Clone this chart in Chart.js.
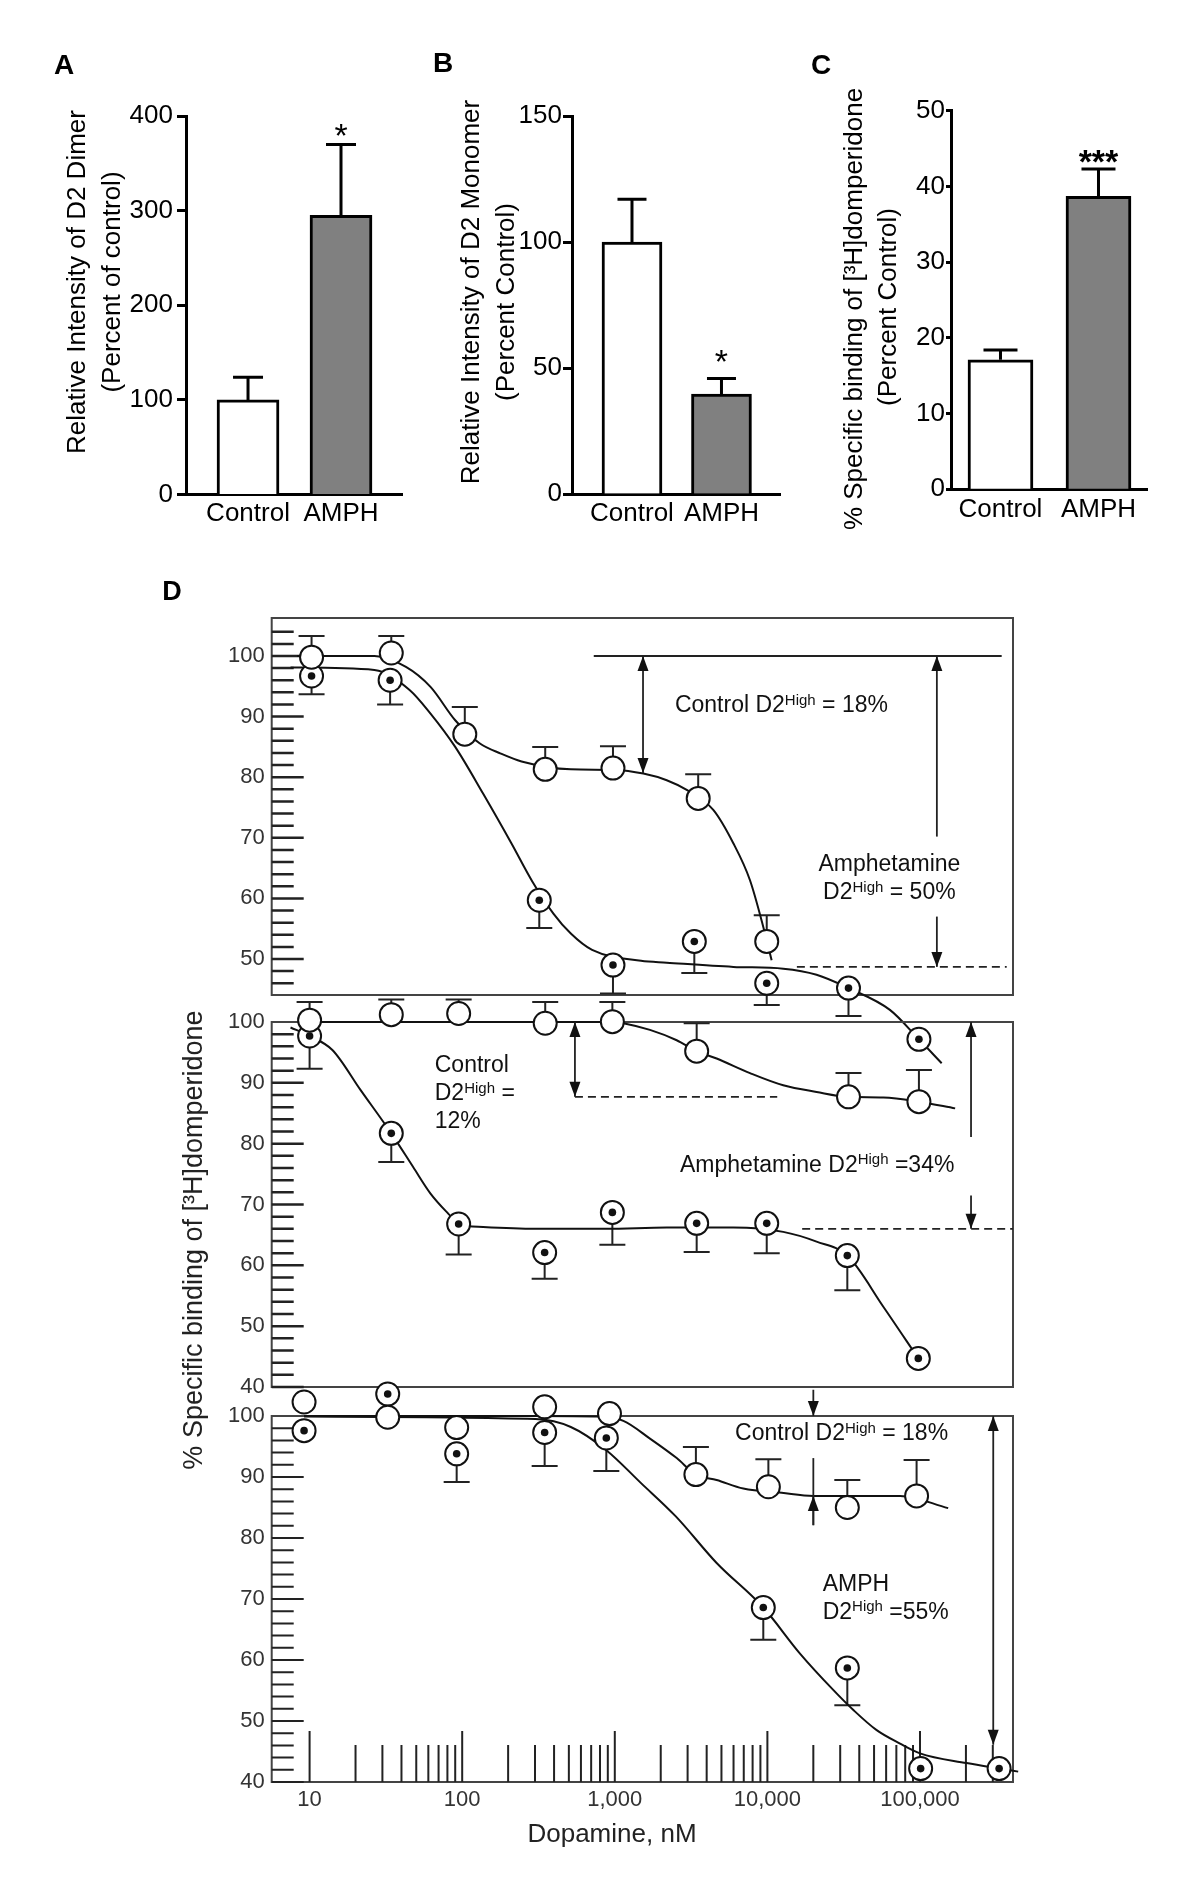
<!DOCTYPE html>
<html>
<head>
<meta charset="utf-8">
<script src="https://cdn.jsdelivr.net/npm/chart.js@4.4.0/dist/chart.umd.min.js"></script>
<style>
html, body { margin: 0; padding: 0; background: #fff; }
#wrap { position: relative; width: 1200px; height: 1890px; background: #fff; }
#wrap canvas { position: absolute; left: 0; top: 0; }
</style>
</head>
<body>
<div id="wrap">
  <canvas id="cA" width="1200" height="1890"></canvas>
  <canvas id="cB" width="1200" height="1890"></canvas>
  <canvas id="cC" width="1200" height="1890"></canvas>
  <canvas id="cD1" width="1200" height="1890"></canvas>
  <canvas id="cD2" width="1200" height="1890"></canvas>
  <canvas id="cD3" width="1200" height="1890"></canvas>
</div>
<script>
Chart.defaults.font.family = '"Liberation Sans", Arial, Helvetica, sans-serif';
Chart.defaults.color = '#000';
var FONT = '"Liberation Sans", Arial, Helvetica, sans-serif';

// points in panel D spill over the frames, so let them draw outside the chart area
var PE = (Chart.elements && Chart.elements.PointElement) || Chart.PointElement;
var peDraw = PE.prototype.draw;
PE.prototype.draw = function (ctx) { peDraw.call(this, ctx); };

// ---- panels A, B, C (bars)
var groups = ['Control', 'AMPH'];
var dimerMean = [100, 295];
var dimerErr = [124, 370];
var dimerStars = ['', '*'];
var dimerTicks = [0, 100, 200, 300, 400];

var monoMean = [100, 39.7];
var monoErr = [117, 45.8];
var monoStars = ['', '*'];
var monoTicks = [0, 50, 100, 150];

var bindMean = [17.1, 38.7];
var bindErr = [18.4, 42.3];
var bindStars = ['', '***'];
var bindTicks = [0, 10, 20, 30, 40, 50];

// ---- panel D (competition curves), dose in nM, binding in %
var doseTicks = [10, 100, 1000, 10000, 100000];
var doseTickLabels = ['10', '100', '1,000', '10,000', '100,000'];
var doseMin = 5.645, doseMax = 406900;

// top row
var topCtlDose = [10.3, 34.3, 104, 350, 973, 3520, 9900];
var topCtlBind = [99.8, 100.5, 87.1, 81.3, 81.5, 76.5, 52.9];
var topCtlErr = [103.3, 103.3, 91.6, 85.0, 85.1, 80.5, 57.2];
var topAmDose = [10.3, 33.7, 320, 973, 3320, 9900, 34000, 98400];
var topAmBind = [96.7, 96.0, 59.7, 49.0, 52.9, 46.0, 45.2, 36.75];
var topAmErr = [93.7, 92.0, 55.1, 44.3, 47.7, 42.4, 40.6, null];
var topCtlFitDose = [8.3, 26.6, 42.8, 62, 90, 130, 179, 245, 515, 1000, 1538, 2190, 2960, 4420, 5980, 7690, 9400, 10660];
var topCtlFit = [100, 100, 98.2, 94.9, 89.4, 85.6, 83.9, 82.6, 81.3, 81.2, 80.6, 79.5, 77.9, 74.6, 69.1, 63.0, 55.3, 49.8];
var topAmFitDose = [7.5, 26.6, 45.2, 62, 90, 137, 210, 288, 396, 515, 710, 1486, 2190, 5980, 12700, 21000, 34000, 63500, 98400, 138700];
var topAmFit = [98.1, 97.7, 94.4, 90.5, 85.0, 77.3, 69.1, 62.8, 57.5, 54.2, 51.5, 49.7, 49.4, 48.7, 48.4, 47.4, 45.2, 41.6, 36.75, 32.8];

// middle row
var midCtlDose = [10, 34.3, 94.8, 350, 964, 3440, 34000, 98400];
var midCtlBind = [100.3, 101.2, 101.4, 99.8, 100.05, 95.2, 87.7, 86.9];
var midCtlErr = [103.3, 103.7, 103.7, 103.3, 103.3, 99.8, 91.6, 92.1];
var midAmDose = [10, 34.3, 94.8, 347, 964, 3440, 9900, 33400, 97500];
var midAmBind = [97.7, 81.7, 66.8, 62.1, 68.7, 66.9, 66.9, 61.6, 44.7];
var midAmErr = [92.3, 77.0, 61.8, 57.8, 63.4, 62.2, 62.0, 55.9, null];
var midCtlFitDose = [10, 1000, 1138, 1700, 2545, 3440, 4650, 7690, 12700, 21000, 34000, 57500, 98400, 170000];
var midCtlFit = [100, 100, 99.8, 98.7, 97.0, 95.2, 94.0, 91.6, 89.6, 88.5, 87.7, 87.6, 86.9, 85.8];
var midAmFitDose = [7.5, 10, 14.1, 21.6, 34.3, 47.6, 62, 81, 95, 137, 303, 880, 2190, 5980, 12700, 21000, 33400, 57500, 97500];
var midAmFit = [99.1, 97.7, 95.4, 88.8, 81.7, 76.2, 71.8, 68.5, 66.8, 66.3, 66.0, 66.0, 66.2, 66.2, 65.5, 63.9, 61.6, 53.2, 44.7];

// bottom row
var botCtlDose = [9.2, 32.5, 92, 347, 923, 3400, 10150, 33400, 95000];
var botCtlBind = [102.3, 99.8, 98.1, 101.5, 100.4, 90.4, 88.4, 85.0, 86.9];
var botCtlErr = [null, null, null, null, null, 94.9, 92.9, 89.5, 92.8];
var botAmDose = [9.2, 32.5, 92, 347, 880, 9400, 33400, 101000, 330000];
var botAmBind = [97.6, 103.6, 93.8, 97.3, 96.4, 68.6, 58.7, 42.2, 42.2];
var botAmErr = [null, null, 89.2, 91.8, 91.0, 63.3, 52.6, null, null];
var botCtlFitDose = [9.2, 300, 800, 1138, 1700, 2545, 3400, 4650, 6950, 12400, 20000, 74000, 153000];
var botCtlFit = [100, 100, 99.9, 99.2, 96.3, 93.1, 90.4, 89.5, 88.1, 87.4, 86.9, 86.9, 84.9];
var botAmFitDose = [9.2, 303, 515, 880, 1486, 2520, 4650, 9400, 16300, 27000, 36600, 52000, 74000, 100000, 202000, 330000, 440000];
var botAmFit = [99.9, 99.5, 98.2, 94.4, 89.0, 83.5, 75.9, 68.6, 61.1, 55.1, 51.8, 48.5, 46.3, 44.7, 43.1, 42.2, 41.7];

// all log ticks 10..300000
var doseMinor = [];
doseTicks.forEach(function (d) {
  for (var m = 1; m <= 9; m++) if (d * m <= 300000) doseMinor.push(d * m);
});

function pts(xs, ys) {
  return xs.map(function (x, i) { return {x: x, y: ys[i]}; });
}
function sup(a, b, c) { return [{t: a}, {t: b, sup: true}, {t: c}]; }
function plain(a) { return [{t: a}]; }

function drawRich(ctx, x, y, parts, align) {
  var big = '23px ' + FONT, small = '15px ' + FONT, w = 0;
  parts.forEach(function (p) {
    ctx.font = p.sup ? small : big;
    p.w = ctx.measureText(p.t).width;
    w += p.w;
  });
  var cx = align === 'center' ? x - w / 2 : x;
  var base = y + 8.2;
  ctx.textAlign = 'left';
  ctx.textBaseline = 'alphabetic';
  parts.forEach(function (p) {
    ctx.font = p.sup ? small : big;
    ctx.fillText(p.t, cx, p.sup ? base - 7.5 : base);
    cx += p.w;
  });
}

function head(ctx, x, y, dir) {
  ctx.beginPath();
  ctx.moveTo(x, y);
  ctx.lineTo(x - 5.5, y - dir * 15);
  ctx.lineTo(x + 5.5, y - dir * 15);
  ctx.closePath();
  ctx.fill();
}

// error bars + stars on the bar panels
var barMarks = {
  id: 'barMarks',
  afterDatasetsDraw: function (chart, args, opts) {
    var ctx = chart.ctx, ys = chart.scales.y;
    chart.data.datasets.forEach(function (ds, di) {
      chart.getDatasetMeta(di).data.forEach(function (bar, i) {
        var top = ys.getPixelForValue(ds.errEnd[i]);
        ctx.save();
        ctx.strokeStyle = '#000';
        ctx.lineWidth = 3;
        ctx.beginPath();
        ctx.moveTo(bar.x, bar.y);
        ctx.lineTo(bar.x, top);
        ctx.moveTo(bar.x - opts.cap / 2, top);
        ctx.lineTo(bar.x + opts.cap / 2, top);
        ctx.stroke();
        if (ds.stars[i]) {
          ctx.fillStyle = '#000';
          ctx.font = opts.starFont;
          ctx.textAlign = 'center';
          ctx.textBaseline = 'middle';
          ctx.fillText(ds.stars[i], bar.x, top - opts.starGap);
        }
        ctx.restore();
      });
    });
  }
};

// frame + inward tick marks of panel D
var innerTicks = {
  id: 'innerTicks',
  beforeDatasetsDraw: function (chart, args, opts) {
    var ctx = chart.ctx, a = chart.chartArea, y = chart.scales.y, x = chart.scales.x;
    ctx.save();
    ctx.strokeStyle = '#444';
    ctx.lineWidth = 2;
    ctx.strokeRect(a.left, a.top, a.right - a.left, a.bottom - a.top);
    ctx.strokeStyle = '#222';
    ctx.lineWidth = 2.5;
    ctx.beginPath();
    y.ticks.forEach(function (t) {
      var py = y.getPixelForValue(t.value);
      if (py - a.top < 4) return;
      var len = t.value % 10 === 0 ? 32 : 22;
      ctx.moveTo(a.left, py);
      ctx.lineTo(a.left + len, py);
    });
    if (opts.logTicks) {
      ctx.lineWidth = 2;
      x.ticks.forEach(function (t) {
        var px = x.getPixelForValue(t.value);
        var major = doseTicks.indexOf(t.value) >= 0;
        ctx.moveTo(px, a.bottom);
        ctx.lineTo(px, a.bottom - (major ? 51 : 37));
      });
    }
    ctx.stroke();
    ctx.restore();
  }
};

var errBars = {
  id: 'errBars',
  beforeDatasetsDraw: function (chart) {
    var ctx = chart.ctx, ys = chart.scales.y;
    ctx.save();
    ctx.strokeStyle = '#222';
    ctx.lineWidth = 2;
    chart.data.datasets.forEach(function (ds, di) {
      if (!ds.errEnd) return;
      chart.getDatasetMeta(di).data.forEach(function (pt, i) {
        var e = ds.errEnd[i];
        if (e == null) return;
        var py = ys.getPixelForValue(e);
        ctx.beginPath();
        ctx.moveTo(pt.x, pt.y);
        ctx.lineTo(pt.x, py);
        ctx.moveTo(pt.x - 13, py);
        ctx.lineTo(pt.x + 13, py);
        ctx.stroke();
      });
    });
    ctx.restore();
  }
};

var notes = {
  id: 'notes',
  afterDatasetsDraw: function (chart, args, opts) {
    var ctx = chart.ctx, xs = chart.scales.x, ys = chart.scales.y;
    function X(v) { return xs.getPixelForValue(v); }
    function Y(v) { return ys.getPixelForValue(v); }
    ctx.save();
    ctx.strokeStyle = '#222';
    ctx.fillStyle = '#111';
    ctx.lineWidth = 1.8;
    (opts.items || []).forEach(function (it) {
      if (it.k === 'h') {
        ctx.setLineDash(it.dash ? [8, 5] : []);
        ctx.beginPath();
        ctx.moveTo(X(it.x1), Y(it.y));
        ctx.lineTo(X(it.x2), Y(it.y));
        ctx.stroke();
        ctx.setLineDash([]);
      } else if (it.k === 'v') {
        var px = X(it.x), p1 = Y(it.y1), p2 = Y(it.y2);
        ctx.beginPath();
        ctx.moveTo(px, p1);
        ctx.lineTo(px, p2);
        ctx.stroke();
        if (it.h1) head(ctx, px, p1, p1 < p2 ? -1 : 1);
        if (it.h2) head(ctx, px, p2, p2 < p1 ? -1 : 1);
      } else if (it.k === 't') {
        drawRich(ctx, X(it.x), Y(it.y), it.parts, it.align);
      }
    });
    ctx.restore();
  }
};

var pageText = {
  id: 'pageText',
  afterDraw: function (chart, args, opts) {
    var ctx = chart.ctx;
    (opts.items || []).forEach(function (t) {
      ctx.save();
      ctx.translate(t.x, t.y);
      if (t.rot) ctx.rotate(t.rot);
      ctx.font = t.font;
      ctx.fillStyle = t.color || '#000';
      ctx.textAlign = 'center';
      ctx.textBaseline = 'middle';
      ctx.fillText(t.text, 0, 0);
      ctx.restore();
    });
  }
};

function barChart(id, o) {
  return new Chart(document.getElementById(id), {
    type: 'bar',
    data: {
      datasets: [{
        data: o.mean.map(function (v, i) { return {x: i + 1, y: v}; }),
        backgroundColor: ['#ffffff', '#808080'],
        borderColor: '#000',
        borderWidth: 3,
        borderSkipped: 'bottom',
        barThickness: o.barW,
        errEnd: o.err,
        stars: o.stars
      }]
    },
    options: {
      responsive: false, animation: false, events: [], devicePixelRatio: 1,
      layout: {padding: {left: 0, top: o.T, right: 1200 - o.R, bottom: 0}},
      plugins: {
        legend: {display: false}, tooltip: {enabled: false},
        barMarks: {cap: o.cap, starFont: o.starFont, starGap: o.starGap}
      },
      scales: {
        x: {
          type: 'linear', min: o.xmin, max: o.xmax, offset: false,
          afterFit: function (s) { s.height = 1890 - o.B; },
          afterBuildTicks: function (s) { s.ticks = groups.map(function (g, i) { return {value: i + 1}; }); },
          grid: {display: false, drawTicks: false},
          border: {display: true, color: '#000', width: 3},
          ticks: {
            callback: function (v) { return groups[v - 1]; },
            font: {size: 26}, color: '#000', padding: o.xp, maxRotation: 0, autoSkip: false
          }
        },
        y: {
          min: 0, max: o.ticks[o.ticks.length - 1],
          afterFit: function (s) { s.width = o.L; },
          afterBuildTicks: function (s) { s.ticks = o.ticks.map(function (v) { return {value: v}; }); },
          grid: {display: true, drawOnChartArea: false, drawTicks: true, tickLength: o.tl, tickWidth: 3, tickColor: '#000'},
          border: {display: true, color: '#000', width: 3},
          ticks: {font: {size: 26}, color: '#000', padding: o.tp}
        }
      }
    },
    plugins: [barMarks]
  });
}

barChart('cA', {mean: dimerMean, err: dimerErr, stars: dimerStars, ticks: dimerTicks,
  L: 186, T: 116, R: 402, B: 494.6, xmin: 0.333, xmax: 2.656, barW: 62, cap: 30,
  starFont: '34px ' + FONT, starGap: 7, tl: 9, tp: 4, xp: 4});
barChart('cB', {mean: monoMean, err: monoErr, stars: monoStars, ticks: monoTicks,
  L: 572, T: 116, R: 780, B: 494, xmin: 0.3296, xmax: 2.654, barW: 60, cap: 29,
  starFont: '34px ' + FONT, starGap: 15, tl: 9, tp: 1, xp: 4});
barChart('cC', {mean: bindMean, err: bindErr, stars: bindStars, ticks: bindTicks,
  L: 951, T: 110.7, R: 1147, B: 489.3, xmin: 0.495, xmax: 2.495, barW: 65, cap: 34,
  starFont: 'bold 34px ' + FONT, starGap: 5, tl: 5, tp: 1, xp: 5});

function dChart(id, o) {
  var xScale = {
    type: 'logarithmic', min: doseMin, max: doseMax, display: o.showX,
    afterBuildTicks: function (s) { s.ticks = doseMinor.map(function (v) { return {value: v}; }); },
    grid: {display: false, drawTicks: false},
    border: {display: false},
    ticks: {
      autoSkip: false, maxRotation: 0, padding: 5, font: {size: 22}, color: '#333',
      callback: function (v) { var k = doseTicks.indexOf(v); return k < 0 ? '' : doseTickLabels[k]; }
    }
  };
  if (o.showX) xScale.afterFit = function (s) { s.height = 1890 - o.B; };
  var ring = {
    showLine: false, pointRadius: 11.5, pointHoverRadius: 11.5, pointBackgroundColor: '#fff',
    pointBorderColor: '#111', pointBorderWidth: 2, clip: false, order: 2
  };
  var fit = {
    pointRadius: 0, borderColor: '#111', borderWidth: 2, cubicInterpolationMode: 'monotone',
    fill: false, clip: false, order: 3
  };
  return new Chart(document.getElementById(id), {
    type: 'line',
    data: {
      datasets: [
        Object.assign({data: pts(o.ctlFitX, o.ctlFitY)}, fit),
        Object.assign({data: pts(o.amFitX, o.amFitY)}, fit),
        Object.assign({data: pts(o.ctlX, o.ctlY), errEnd: o.ctlE}, ring),
        Object.assign({data: pts(o.amX, o.amY), errEnd: o.amE}, ring),
        {data: pts(o.amX, o.amY), showLine: false, pointRadius: 3.8, pointHoverRadius: 3.8,
          pointBackgroundColor: '#111', pointBorderWidth: 0, clip: false, order: 1}
      ]
    },
    options: {
      responsive: false, animation: false, events: [], devicePixelRatio: 1,
      layout: {padding: {left: 0, top: o.T, right: 1200 - 1013, bottom: o.showX ? 0 : 1890 - o.B}},
      plugins: {
        legend: {display: false}, tooltip: {enabled: false},
        innerTicks: {logTicks: o.showX},
        notes: {items: o.notes},
        pageText: {items: o.page || []}
      },
      scales: {
        x: xScale,
        y: {
          min: o.ymin, max: o.ymax,
          afterFit: function (s) { s.width = 271.7; },
          grid: {display: false, drawTicks: false},
          border: {display: false},
          ticks: {
            stepSize: 2, autoSkip: false, includeBounds: false, padding: 7,
            font: {size: 22}, color: '#333',
            callback: function (v) { return v % 10 === 0 ? String(v) : ''; }
          }
        }
      }
    },
    plugins: [innerTicks, errBars, notes, pageText]
  });
}

dChart('cD1', {
  T: 618, B: 995, ymin: 44.06, ymax: 106.27, showX: false,
  ctlX: topCtlDose, ctlY: topCtlBind, ctlE: topCtlErr,
  amX: topAmDose, amY: topAmBind, amE: topAmErr,
  ctlFitX: topCtlFitDose, ctlFitY: topCtlFit, amFitX: topAmFitDose, amFitY: topAmFit,
  notes: [
    {k: 'h', y: 100, x1: 728, x2: 343000},
    {k: 'v', x: 1531, y1: 100, y2: 80.7, h1: true, h2: true},
    {k: 't', x: 2477, y: 92.05, parts: sup('Control D2', 'High', ' = 18%'), align: 'left'},
    {k: 'v', x: 129000, y1: 100, y2: 70.2, h1: true},
    {k: 'v', x: 129000, y1: 57.0, y2: 48.7, h2: true},
    {k: 't', x: 63000, y: 65.8, parts: plain('Amphetamine'), align: 'center'},
    {k: 't', x: 63000, y: 61.2, parts: sup('D2', 'High', ' = 50%'), align: 'center'},
    {k: 'h', y: 48.7, x1: 15600, x2: 370000, dash: true}
  ]
});

dChart('cD2', {
  T: 1022, B: 1387, ymin: 40, ymax: 100, showX: false,
  ctlX: midCtlDose, ctlY: midCtlBind, ctlE: midCtlErr,
  amX: midAmDose, amY: midAmBind, amE: midAmErr,
  ctlFitX: midCtlFitDose, ctlFitY: midCtlFit, amFitX: midAmFitDose, amFitY: midAmFit,
  notes: [
    {k: 't', x: 66.1, y: 93.1, parts: plain('Control'), align: 'left'},
    {k: 't', x: 66.1, y: 88.5, parts: sup('D2', 'High', ' ='), align: 'left'},
    {k: 't', x: 66.1, y: 83.9, parts: plain('12%'), align: 'left'},
    {k: 'v', x: 548, y1: 100, y2: 87.7, h1: true, h2: true},
    {k: 'h', y: 87.7, x1: 548, x2: 11600, dash: true},
    {k: 't', x: 2675, y: 76.75, parts: sup('Amphetamine D2', 'High', ' =34%'), align: 'left'},
    {k: 'v', x: 216000, y1: 100, y2: 81.1, h1: true},
    {k: 'v', x: 216000, y1: 71.5, y2: 66.0, h2: true},
    {k: 'h', y: 66.0, x1: 16900, x2: doseMax, dash: true}
  ]
});

dChart('cD3', {
  T: 1416, B: 1782, ymin: 40, ymax: 100, showX: true,
  ctlX: botCtlDose, ctlY: botCtlBind, ctlE: botCtlErr,
  amX: botAmDose, amY: botAmBind, amE: botAmErr,
  ctlFitX: botCtlFitDose, ctlFitY: botCtlFit, amFitX: botAmFitDose, amFitY: botAmFit,
  notes: [
    {k: 'v', x: 20000, y1: 104.3, y2: 100, h2: true},
    {k: 'v', x: 20000, y1: 93.1, y2: 82.1},
    {k: 'v', x: 20000, y1: 82.1, y2: 86.9, h2: true},
    {k: 't', x: 6140, y: 97.4, parts: sup('Control D2', 'High', ' = 18%'), align: 'left'},
    {k: 'v', x: 302000, y1: 100, y2: 46.1, h1: true, h2: true},
    {k: 't', x: 23040, y: 72.65, parts: plain('AMPH'), align: 'left'},
    {k: 't', x: 23040, y: 68.1, parts: sup('D2', 'High', ' =55%'), align: 'left'}
  ],
  page: [
    {text: 'A', x: 64, y: 66, font: 'bold 28px ' + FONT},
    {text: 'B', x: 443, y: 64, font: 'bold 28px ' + FONT},
    {text: 'C', x: 821, y: 66, font: 'bold 28px ' + FONT},
    {text: 'D', x: 172, y: 593, font: 'bold 27px ' + FONT},
    {text: 'Relative Intensity of D2 Dimer', x: 78, y: 282, rot: -Math.PI / 2, font: '26px ' + FONT},
    {text: '(Percent of control)', x: 113, y: 282, rot: -Math.PI / 2, font: '26px ' + FONT},
    {text: 'Relative Intensity of D2 Monomer', x: 472, y: 292, rot: -Math.PI / 2, font: '26px ' + FONT},
    {text: '(Percent Control)', x: 507, y: 302, rot: -Math.PI / 2, font: '26px ' + FONT},
    {text: '% Specific binding of [\u00b3H]domperidone', x: 855, y: 309, rot: -Math.PI / 2, font: '26px ' + FONT},
    {text: '(Percent Control)', x: 889, y: 307, rot: -Math.PI / 2, font: '26px ' + FONT},
    {text: '% Specific binding of [\u00b3H]domperidone', x: 195, y: 1240, rot: -Math.PI / 2, font: '27px ' + FONT, color: '#222'},
    {text: 'Dopamine, nM', x: 612, y: 1835, font: '26px ' + FONT, color: '#222'}
  ]
});
</script>
</body>
</html>
